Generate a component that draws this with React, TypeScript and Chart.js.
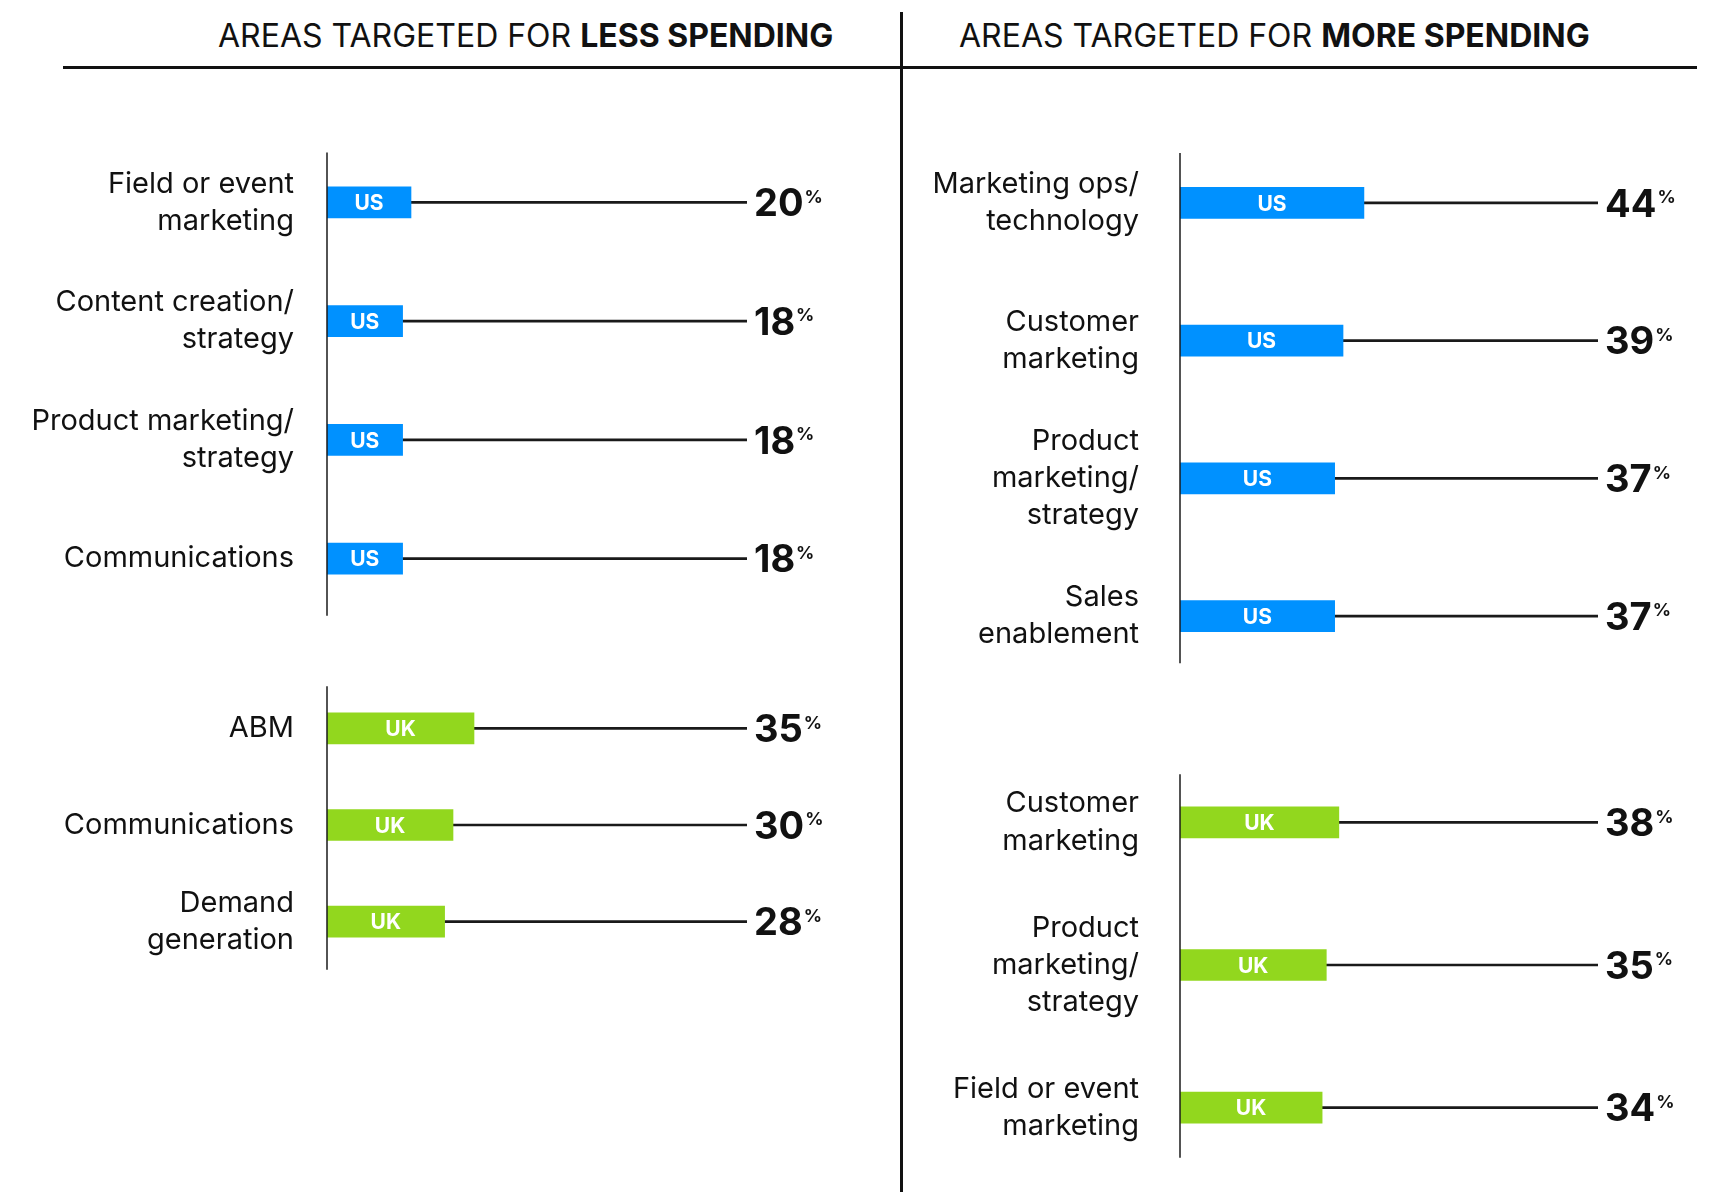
import React, { useEffect, useRef } from 'react';
import { Chart, registerables } from 'chart.js';

Chart.register(...registerables);

// ---------- DATA ----------
const lessUSCategories: (string | string[])[] = [
  ['Field or event', 'marketing'],
  ['Content creation/', 'strategy'],
  ['Product marketing/', 'strategy'],
  'Communications',
];
const lessUSValues = [20, 18, 18, 18];

const lessUKCategories: (string | string[])[] = [
  'ABM',
  'Communications',
  ['Demand', 'generation'],
];
const lessUKValues = [35, 30, 28];

const moreUSCategories: (string | string[])[] = [
  ['Marketing ops/', 'technology'],
  ['Customer', 'marketing'],
  ['Product', 'marketing/', 'strategy'],
  ['Sales', 'enablement'],
];
const moreUSValues = [44, 39, 37, 37];

const moreUKCategories: (string | string[])[] = [
  ['Customer', 'marketing'],
  ['Product', 'marketing/', 'strategy'],
  ['Field or event', 'marketing'],
];
const moreUKValues = [38, 35, 34];

const seriesUS = 'US';
const seriesUK = 'UK';
const scaleMax = 100;

// ---------- STYLES ----------
const BLUE = '#0091FF';
const GREEN = '#92D71E';
const INK = '#111111';
const FONT = 'Inter, "Noto Sans", sans-serif';

type PanelProps = {
  categories: (string | string[])[];
  values: number[];
  series: string;
  color: string;
  left: number;
  top: number;
  width: number;
  height: number;
  axisX: number;
  plotRight: number;
  labelPad: number;
  axisInsetTop: number;
  axisInsetBottom: number;
};

const PAD_V = 110;

function Panel(p: PanelProps) {
  const ref = useRef<HTMLCanvasElement>(null);
  useEffect(() => {
    const canvas = ref.current!;
    const axisWidth = p.axisX - p.left;
    const padRight = p.left + p.width - p.plotRight;
    const decor = {
      id: 'decor',
      afterDatasetsDraw(chart: any) {
        const ctx: CanvasRenderingContext2D = chart.ctx;
        const area = chart.chartArea;
        const ys = chart.scales.y;
        const n = chart.data.labels.length;
        ctx.save();
        ctx.strokeStyle = '#1a1a1a';
        ctx.lineWidth = 1.5;
        ctx.beginPath();
        ctx.moveTo(area.left, ys.getPixelForValue(0) - p.axisInsetTop);
        ctx.lineTo(area.left, ys.getPixelForValue(n - 1) + p.axisInsetBottom);
        ctx.stroke();
        const meta = chart.getDatasetMeta(0);
        meta.data.forEach((bar: any, i: number) => {
          const { x, y, base } = bar.getProps(['x', 'y', 'base'], true);
          ctx.fillStyle = '#ffffff';
          ctx.font = `bold 21px ${FONT}`;
          ctx.textAlign = 'center';
          ctx.textBaseline = 'alphabetic';
          ctx.fillText(chart.data.datasets[0].label, (x + base) / 2, y + (21 * 0.727) / 2);
          const v = String(chart.data.datasets[0].data[i]);
          const size = 38;
          const cap = size * 0.727;
          ctx.fillStyle = INK;
          ctx.font = `bold ${size}px ${FONT}`;
          ctx.textAlign = 'left';
          const tx = area.right + 7;
          ctx.fillText(v, tx, y + cap / 2);
          const w = ctx.measureText(v).width;
          const ps = 18;
          ctx.font = `bold ${ps}px ${FONT}`;
          ctx.fillText('%', tx + w + 1, y - cap / 2 + 1 + ps * 0.727);
        });
        ctx.restore();
      },
    };
    const chart = new Chart(canvas, {
      type: 'bar',
      data: {
        labels: p.categories as any,
        datasets: [
          {
            label: p.series,
            data: p.values,
            backgroundColor: p.color,
            barThickness: 31,
            stack: 's',
          },
          {
            label: 'rest',
            data: p.values.map((v) => scaleMax - v),
            backgroundColor: '#1a1a1a',
            barThickness: 2,
            stack: 's',
          },
        ],
      },
      options: {
        indexAxis: 'y',
        responsive: false,
        animation: false,
        events: [],
        layout: { padding: { top: PAD_V, bottom: PAD_V, left: 0, right: padRight } },
        scales: {
          x: { display: false, min: 0, max: scaleMax, stacked: true },
          y: {
            stacked: true,
            grid: { display: false, drawTicks: false },
            border: { display: false },
            ticks: {
              padding: p.labelPad,
              color: INK,
              font: { family: FONT, size: 29, lineHeight: 1.28 },
            },
            afterFit: (s: any) => {
              s.width = axisWidth;
            },
          },
        },
        plugins: { legend: { display: false }, tooltip: { enabled: false } },
      } as any,
      plugins: [decor],
    });
    return () => chart.destroy();
  }, []);
  return (
    <canvas
      ref={ref}
      width={p.width}
      height={p.height}
      style={{ position: 'absolute', left: p.left, top: p.top, width: p.width, height: p.height }}
    />
  );
}

const titleStyle: React.CSSProperties = {
  position: 'absolute',
  top: 20,
  fontSize: 32,
  lineHeight: '32px',
  whiteSpace: 'nowrap',
  color: INK,
  fontFamily: FONT,
};

export default function App() {
  return (
    <div
      style={{
        position: 'absolute',
        left: 0,
        top: 0,
        width: 1716,
        height: 1192,
        overflow: 'hidden',
        background: '#ffffff',
      }}
    >
      <div style={{ ...titleStyle, left: 218 }}>
        AREAS TARGETED FOR <b>LESS SPENDING</b>
      </div>
      <div style={{ ...titleStyle, left: 959 }}>
        AREAS TARGETED FOR <b>MORE SPENDING</b>
      </div>
      <div style={{ position: 'absolute', left: 63, top: 66, width: 1634, height: 3, background: INK }} />
      <div style={{ position: 'absolute', left: 900, top: 12, width: 3, height: 1180, background: INK }} />

      <Panel
        categories={lessUSCategories}
        values={lessUSValues}
        series={seriesUS}
        color={BLUE}
        left={0}
        top={143 - PAD_V}
        width={880}
        height={475 + 2 * PAD_V}
        axisX={327}
        plotRight={747}
        labelPad={33}
        axisInsetTop={50}
        axisInsetBottom={57}
      />
      <Panel
        categories={lessUKCategories}
        values={lessUKValues}
        series={seriesUK}
        color={GREEN}
        left={0}
        top={680 - PAD_V}
        width={880}
        height={290 + 2 * PAD_V}
        axisX={327}
        plotRight={747}
        labelPad={33}
        axisInsetTop={42}
        axisInsetBottom={48}
      />
      <Panel
        categories={moreUSCategories}
        values={moreUSValues}
        series={seriesUS}
        color={BLUE}
        left={905}
        top={134 - PAD_V}
        width={811}
        height={551 + 2 * PAD_V}
        axisX={1180}
        plotRight={1598}
        labelPad={41}
        axisInsetTop={50}
        axisInsetBottom={47}
      />
      <Panel
        categories={moreUKCategories}
        values={moreUKValues}
        series={seriesUK}
        color={GREEN}
        left={905}
        top={751 - PAD_V}
        width={811}
        height={428 + 2 * PAD_V}
        axisX={1180}
        plotRight={1598}
        labelPad={41}
        axisInsetTop={48}
        axisInsetBottom={50}
      />
    </div>
  );
}
